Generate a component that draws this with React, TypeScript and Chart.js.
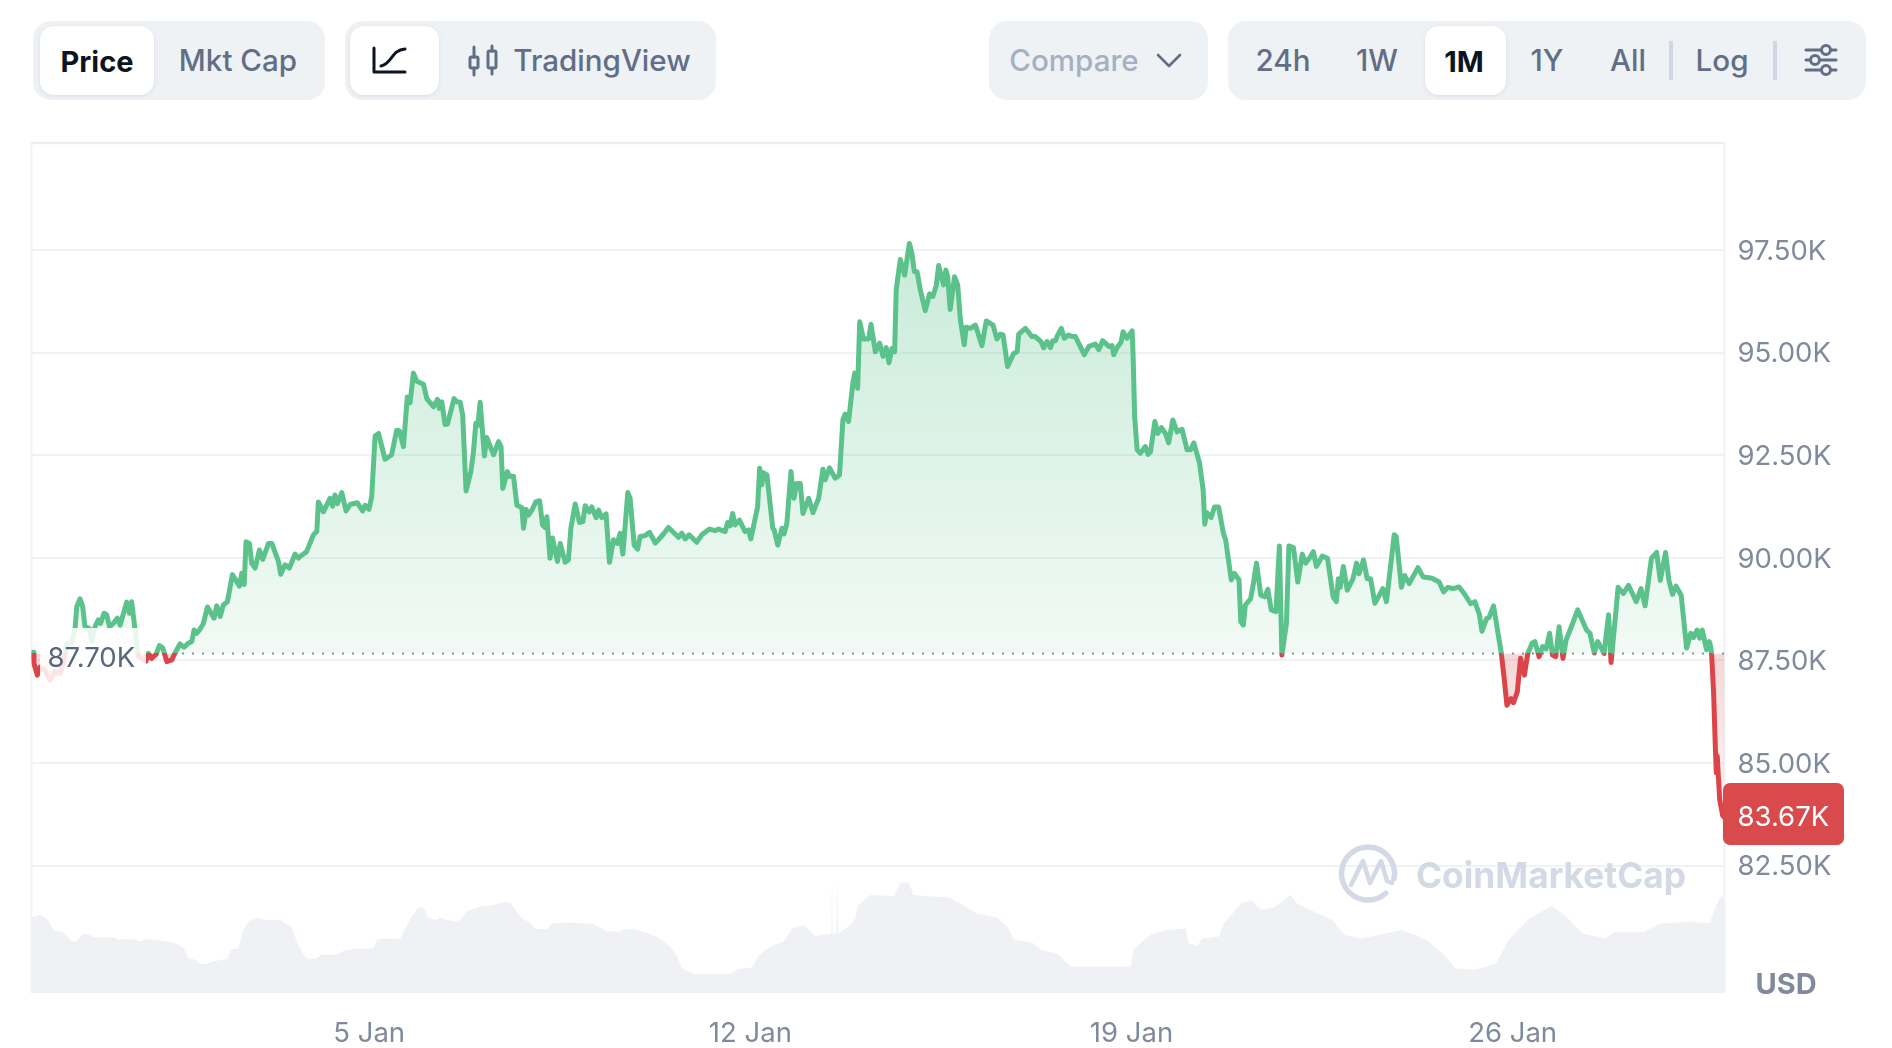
import React, { useEffect, useRef } from "react";
import { Chart, registerables } from "chart.js";

Chart.register(...registerables);

const FONT = "Inter, 'Noto Sans', sans-serif";

// Hours since the start of the window, and BTC price in thousand USD.
const priceHours = [
  0.8,1.1,2.6,3.8,6,8.2,10.4,12.6,14.1,15.6,17.8,19.2,20,21.4,22.6,23.6,25.5,26.6,28,29.5,30.5,32,33.2,34.4,36.1,37.9,39.1,42,43.2,44.2,45.7,47.2,48.6,50.5,51.6,53,55,56.4,57.9,59.7,61.9,63.3,65.5,67.3,69.2,70.7,71.7,72.9,74.3,75.8,77.6,80.5,81.7,83.2,84.6,86.4,88.6,91.7,92.7,93.8,94.6,96.1,97.1,98.6,100.5,102,104.5,106,108.9,109.9,111.8,113.7,116.2,117.7,
  118.4,121.3,124.3,125.8,126.5,128.7,131.6,132.8,133.8,134.9,136.8,138.7,140.5,143.7,146,147.1,148.8,150,151.5,153,155.9,158.8,161,162.2,164,165.7,166.9,168.4,169.9,172.8,174.3,177.2,179,179.8,180.9,182.3,183.4,186.3,187.5,189,190.1,191.6,193.7,194.8,195.9,196.8,197.8,199.7,200.7,203.7,205.9,207,207.8,209.8,210.7,212.5,214,216.2,216.9,218.1,219.1,220.6,222.3,224,225.3,226.4,227.2,228.6,229.7,231.9,233.1,235.3,236.7,237.8,239.7,241.6,243.1,244.1,245.9,247,248.9,250,251.4,253.3,254.8,256.6,258.3,259.5,260.7,262.9,263.9,265.7,267.2,268.3,270.5,272.5,275,276.4,278.6,280.8,285.2,286.7,288.2,289.9,293.3,295.5,298.9,301.4,302.9,305.8,306.9,308,309.1,310.2,312.1,314.6,316.1,317.1,320.1,321,322,322.7,324.2,326.8,327.4,329,330.8,331.8,333,334.8,336.1,337.4,
  338.9,340.1,342.6,344.5,347,348.9,349.9,351.8,354.3,356.2,357.7,358.7,360.2,362.1,362.9,364.2,365.1,366.8,369,370.1,372,373.9,375.4,376.8,378,379.3,380.5,381.2,383,384.9,387,388.1,389.2,390.4,391.8,394,395.9,397.4,398.9,399.9,402.1,403.1,403.9,405,406.9,408.3,409.5,411.2,412,413.9,416.1,419,420.9,423.9,425.6,427.1,428.3,430.3,433,434.5,435.2,438.1,441.1,442.5,445,446.2,447.7,449.2,450.2,451.4,452.4,454,455.3,457.2,458.7,460.2,464.1,466.1,469,470.5,472.2,474.9,476.3,477.1,478.5,480.3,481.2,482.9,485.2,485.6,486.3,487.4,488.8,491,492.2,493.3,495.2,496.5,498.1,499.9,501.3,503.1,505,507.2,509.4,510.9,512.4,514.9,516.5,
  517.2,518.1,520,521.5,523.3,525.4,526.4,528.9,530.3,532.3,533.1,534.2,535.1,537.4,538.5,540,541.9,543.6,545,546.5,548.6,550.1,551.2,553.2,554.3,556.3,558.2,560.2,561.7,563.3,565.1,566.4,569,571.3,573.8,575.2,576.1,576.9,578.3,580,582.6,584.1,585.2,587.2,588.8,590.3,592.2,595.7,597.3,600.7,601.6,603.9,605.3,607.3,611.2,613.5,617.4,620.5,622.5,624.4,626.7,629.3,631.3,634.4,636.3,638.3,639.4,641.4,642.5,644.5,647.9,649.1,650.4,652.2,653.3,655,656.4,658.1,659.6,661.5,662.7,664.6,666.1,667.7,669.2,670.5,671.9,673.4,675.1,676.5,678.8,681.6,685.5,687,688.9,690.4,693.2,695.2,696.3,697.8,699.4,701.7,704,707.4,709.5,711.3,714.1,716.4,718,720.3,721.8,723.4,724.9,727.2,729.6,731.4,732.7,734.2,735.4,736.5,738.4,739.6,740.2,
  740.6,741.5,742.3,742.7,743.1,744.2,745.5,746.3,
];
const priceValues = [
  87.7,87.43,87.14,87.34,87.26,87.02,87.22,87.18,87.43,87.92,87.92,88.24,88.81,89,88.81,88.32,88.28,87.96,88.32,88.49,88.4,88.65,88.61,88.32,88.4,88.53,88.36,88.92,88.65,88.93,88.24,87.59,87.55,87.48,87.67,87.55,87.65,87.86,87.8,87.47,87.51,87.68,87.9,87.82,87.92,87.96,88.24,88.16,88.26,88.4,88.8,88.53,88.83,88.57,88.85,88.93,89.59,89.31,89.62,89.35,90.39,90.35,89.87,89.75,90.19,89.96,90.35,90.35,89.91,89.6,89.83,89.75,90.09,89.99,
  90.03,90.15,90.56,90.64,91.36,91.12,91.45,91.26,91.53,91.32,91.59,91.14,91.3,91.34,91.14,91.28,91.18,91.49,92.97,93.03,92.4,92.51,93.11,93.09,92.71,93.92,93.78,94.5,94.3,94.23,93.88,93.68,93.86,93.64,93.8,93.25,93.26,93.88,93.8,93.79,93.48,91.63,92.1,92.55,93.28,93.23,93.79,92.48,92.93,92.51,92.83,92.71,91.69,92.1,91.99,91.99,91.28,91.22,90.72,91.18,91.04,91.16,91.36,91.39,90.8,90.74,91,89.99,90.48,89.91,90.35,89.89,89.95,90.72,91.31,90.86,90.88,91.27,91.12,91.24,90.98,91.16,90.98,91.07,89.89,90.44,90.35,90.6,90.09,91.59,91.45,90.31,90.21,90.52,90.54,90.62,90.36,90.44,90.58,90.74,90.5,90.6,90.46,90.56,90.38,90.56,90.7,90.66,90.7,90.64,90.86,90.78,91.08,90.8,90.92,90.64,90.68,90.46,91.24,92.18,91.78,92.07,92.02,90.72,90.68,90.31,90.72,90.58,90.84,92.1,91.45,91.81,
  91.81,91.08,91.45,91.1,91.45,92.16,91.9,92.19,91.94,92.02,93.36,93.5,93.32,94.26,94.5,94.13,95.75,95.33,95.33,95.69,95.02,95.23,94.91,95.12,94.75,95.1,95.02,96.53,97.27,96.89,97.66,97.42,96.97,96.97,96.53,96.02,96.43,96.37,96.65,97.12,96.65,97.01,96.85,96.05,96.85,96.65,95.79,95.19,95.62,95.59,95.67,95.17,95.77,95.67,95.33,95.45,95.43,94.66,94.98,95.02,95.45,95.59,95.39,95.39,95.27,95.12,95.27,95.12,95.29,95.29,95.43,95.59,95.35,95.43,95.39,95.39,94.95,95.15,95.21,95.07,95.29,95.15,95.17,94.95,95.12,95.25,95.51,95.35,95.53,94.98,93.44,92.63,92.55,92.71,92.52,92.59,93.32,93.03,93.17,93.03,92.8,93.36,93.07,93.13,92.63,92.63,92.8,92.31,91.65,
  90.82,91.1,90.98,91.24,91.24,90.6,90.44,89.46,89.62,89.46,88.44,88.36,88.85,89,89.33,89.87,89.09,89.05,89.23,88.73,88.69,90.29,87.63,88.4,90.29,90.25,89.41,90.09,89.87,89.99,90.15,89.79,90.04,89.99,89.05,88.93,89.49,89.28,89.79,89.21,89.5,89.87,89.61,89.95,89.49,89.49,88.89,89.25,88.93,90.56,90.52,89.28,89.57,89.37,89.76,89.53,89.5,89.41,89.17,89.28,89.25,89.29,89.15,88.88,88.93,88.61,88.21,88.52,88.54,88.83,87.68,87.1,86.41,86.57,86.47,86.74,87.55,87.14,87.67,87.92,87.96,87.59,87.84,87.78,88.16,87.63,87.59,88.32,87.55,88,88.32,88.73,88.24,88.16,87.68,87.96,87.67,88.61,87.45,88.32,89.28,89.13,89.33,88.93,89.25,88.83,89.99,90.13,89.45,90.13,89.45,89.11,89.31,89.09,87.8,88.16,88.06,88.24,88.04,88.24,87.76,87.96,87.84,
  87.67,86.7,85.32,84.76,85.17,84.1,83.72,83.67,
];

// Traded volume outline, in billion USD, on its own hidden axis.
const volumeHours = [
  0,3.8,6.7,9.7,14.1,17.8,20,22.6,25.8,27.3,36.9,37.9,45.7,47.9,50.1,55.2,57.4,62.6,67,69.2,72.1,74.3,77.3,79.5,86.1,88.3,91.3,93.2,95.7,99.3,103.8,109.6,114.8,117,119.9,122.1,125.1,128,134.6,138.3,144.2,150.8,152.3,155.2,162.5,164.8,167.7,170.6,172.8,175,178,180.9,182.4,186.8,189,
  191.9,197.8,203.7,207.4,211.1,216.2,219.1,222.1,227.5,229.4,237.5,247.8,253.7,259.6,261,266.9,275.7,281.6,284.6,286.8,291.9,308.1,311,317.6,320.6,327.2,331.6,335.3,340.4,345.6,352.2,352.6,352.9,353.2,354.8,355.1,355.6,360.3,363.2,363.9,369.8,380.1,383,386.7,
  388.9,397.7,404.3,408.7,416.8,425.7,430.1,433,441.1,445.5,452.1,458,484.5,485.9,490.3,494,500.6,508.7,510.2,513.9,516.1,523.4,525.6,533.7,538.1,541.8,547.7,555,557.9,563.8,573.4,578.9,586.1,604.2,615,622.2,627.6,636.7,645.7,651.1,660.2,670.1,676.4,683.7,693.6,698.1,710.8,718,731.5,739.7,742.4,744.7,746.3,
];
const volumeValues = [
  37.8,39.3,37.3,31.5,30.2,25.7,26,29.5,29,27.8,27.8,26.8,26.8,25.7,26.8,26.8,26,25.3,22.7,17.3,16.8,14.5,14.5,15.7,17,22,22.3,30.7,35.7,37.7,36.5,36.5,32.7,25.7,19,17,17,19.3,19.3,21.5,22.3,22.3,26.8,27.3,27,32.3,38.2,42.8,42.8,37.8,36.5,37.8,36.8,35.7,36.5,
  40.7,43.2,44,45.2,45.2,37.3,35.7,32,32,34.8,35.2,34.5,30.7,30.7,32,31.8,28.2,23.2,18.2,12.3,9.5,9.5,12,12.8,19,24,25.7,32.3,34,28.5,29.8,29.8,57.3,29.8,29.8,60.2,29.8,33.2,37.3,43.2,49,48.5,55.2,55.2,
  49,48.2,47.8,45.2,39.8,37.8,33.2,26.8,25.2,21.2,19.8,13.2,13.2,21.8,26.5,29.5,31.5,32.3,24.8,23.5,27.3,28.2,34.8,45.2,46.2,41.8,42.7,49,44.8,41.5,36.5,29,27.3,31.5,26.5,19.8,12.3,11.8,14.8,26.5,37.3,43.5,38.2,29.8,27.3,30.6,30.6,34.8,35.7,34.8,43.2,48.2,48.2,
];

const xTickHours = [148.9, 316.9, 484.9, 652.9];
const xTickLabels = ["5 Jan", "12 Jan", "19 Jan", "26 Jan"];
const yTickValues = [82.5, 85, 87.5, 90, 92.5, 95, 97.5];
const baselineValue = 87.67;
const baselineLabel = "87.70K";
const lastPriceLabel = "83.67K";

const GREEN = "#5ac28a";
const RED = "#db4549";
const GRID = "#f0f2f5";
const AXIS_TEXT = "#808a9d";
const TEXT = "#616e85";
const DARK = "#0d1421";

const decorations = {
  id: "decorations",
  beforeDatasetsDraw(chart: any) {
    const { ctx, chartArea: a } = chart;
    ctx.save();
    ctx.strokeStyle = "#eceef2";
    ctx.lineWidth = 2.5;
    ctx.beginPath();
    ctx.moveTo(a.left, a.top);
    ctx.lineTo(a.right, a.top);
    ctx.stroke();
    ctx.strokeStyle = GRID;
    ctx.lineWidth = 2;
    ctx.beginPath();
    ctx.moveTo(a.left, a.top);
    ctx.lineTo(a.left, a.bottom);
    ctx.moveTo(a.right, a.top);
    ctx.lineTo(a.right, a.bottom);
    ctx.stroke();

    // Watermark
    ctx.strokeStyle = "#d4d9e6";
    ctx.lineWidth = 5.5;
    ctx.lineCap = "round";
    ctx.lineJoin = "round";
    ctx.beginPath();
    ctx.arc(1368, 873.5, 26.5, (48 * Math.PI) / 180, (372 * Math.PI) / 180);
    ctx.stroke();
    ctx.lineWidth = 4.5;
    ctx.beginPath();
    ctx.moveTo(1351, 885);
    ctx.lineTo(1363, 861);
    ctx.lineTo(1370, 883);
    ctx.lineTo(1381, 861);
    ctx.lineTo(1387, 881);
    ctx.lineTo(1392, 883);
    ctx.stroke();
    ctx.fillStyle = "#d4d9e6";
    ctx.font = `700 36px ${FONT}`;
    ctx.textBaseline = "alphabetic";
    ctx.textAlign = "left";
    ctx.fillText("CoinMarketCap", 1416, 888, 270);
    ctx.restore();
  },
  afterDatasetsDraw(chart: any) {
    const { ctx, chartArea: a, scales } = chart;
    const yBase = scales.y.getPixelForValue(baselineValue);
    ctx.save();
    // Dotted reference line
    ctx.strokeStyle = "#8e939b";
    ctx.lineWidth = 2;
    ctx.setLineDash([2, 8]);
    ctx.beginPath();
    ctx.moveTo(182, yBase);
    ctx.lineTo(a.right, yBase);
    ctx.stroke();
    ctx.setLineDash([]);

    // Reference label
    ctx.fillStyle = "rgba(255,255,255,0.86)";
    ctx.beginPath();
    ctx.roundRect(40, 628, 106, 56, 6);
    ctx.fill();
    ctx.fillStyle = "#58667e";
    ctx.font = `400 27.5px ${FONT}`;
    ctx.textAlign = "left";
    ctx.textBaseline = "middle";
    ctx.fillText(baselineLabel, 47.5, 659);

    // Last price badge
    ctx.fillStyle = "#d94a4c";
    ctx.beginPath();
    ctx.roundRect(1723, 783, 121, 62, 7);
    ctx.fill();
    ctx.fillStyle = "#ffffff";
    ctx.fillText(lastPriceLabel, 1737.5, 818);

    // Currency
    ctx.fillStyle = AXIS_TEXT;
    ctx.font = `700 29px ${FONT}`;
    ctx.textAlign = "center";
    ctx.fillText("USD", 1786, 985);
    ctx.restore();
  },
};

function Pill({ left, right, children }: any) {
  return (
    <div
      style={{
        position: "absolute",
        left,
        top: 21,
        width: right - left,
        height: 79,
        background: "#eff2f5",
        borderRadius: 18,
      }}
    >
      {children}
    </div>
  );
}

function Active({ left, right }: any) {
  return (
    <div
      style={{
        position: "absolute",
        left,
        top: 26,
        width: right - left,
        height: 69,
        background: "#ffffff",
        borderRadius: 14,
        boxShadow: "0 1px 4px rgba(88,102,126,0.14)",
      }}
    />
  );
}

function Label({ x, color = TEXT, weight = 500, size = 29.6, children }: any) {
  return (
    <div
      style={{
        position: "absolute",
        left: x,
        top: 61,
        transform: "translate(-50%,-50%)",
        fontFamily: FONT,
        fontSize: size,
        fontWeight: weight,
        color,
        whiteSpace: "nowrap",
        lineHeight: 1,
      }}
    >
      {children}
    </div>
  );
}

export default function App() {
  const ref = useRef<HTMLCanvasElement>(null);

  useEffect(() => {
    const canvas = ref.current!;
    const chart: any = new Chart(canvas, {
      type: "line",
      data: {
        datasets: [
          {
            label: "Price",
            data: priceHours.map((x, i) => ({ x, y: priceValues[i] })),
            yAxisID: "y",
            order: 0,
            borderColor: GREEN,
            borderWidth: 5,
            borderJoinStyle: "round",
            borderCapStyle: "round",
            pointRadius: 0,
            tension: 0,
            fill: { target: { value: baselineValue }, above: "rgba(88,193,135,0.2)", below: "rgba(219,69,73,0.15)" },
          },
          {
            label: "Volume",
            data: volumeHours.map((x, i) => ({ x, y: volumeValues[i] })),
            yAxisID: "yVol",
            order: 1,
            borderWidth: 0,
            borderColor: "transparent",
            backgroundColor: "#eff1f5",
            pointRadius: 0,
            tension: 0,
            fill: "origin",
          },
        ],
      } as any,
      options: {
        animation: false,
        responsive: false,
        layout: { padding: { left: 31.4, top: 143, right: 0, bottom: 0 } },
        plugins: { legend: { display: false }, tooltip: { enabled: false }, title: { display: false } },
        scales: {
          x: {
            type: "linear",
            min: 0,
            max: 746.3,
            afterBuildTicks: (axis: any) => {
              axis.ticks = xTickHours.map((value) => ({ value }));
            },
            afterFit: (axis: any) => {
              axis.height = 55;
            },
            grid: { display: false },
            border: { display: false },
            ticks: {
              autoSkip: false,
              maxRotation: 0,
              padding: 16,
              color: AXIS_TEXT,
              font: { family: FONT, size: 27.5 },
              callback: (v: any) => xTickLabels[xTickHours.indexOf(v)],
            },
          },
          y: {
            type: "linear",
            position: "right",
            min: 79.396,
            max: 100.107,
            afterBuildTicks: (axis: any) => {
              axis.ticks = yTickValues.map((value) => ({ value }));
            },
            afterFit: (axis: any) => {
              axis.width = 167.5;
            },
            grid: { color: GRID, lineWidth: 2, drawTicks: false },
            border: { display: false },
            ticks: {
              autoSkip: false,
              padding: 13,
              labelOffset: 1.5,
              color: AXIS_TEXT,
              font: { family: FONT, size: 27.5 },
              callback: (v: any) => `${Number(v).toFixed(2)}K`,
            },
          },
          yVol: { type: "linear", display: false, min: 0, max: 425 },
        },
      } as any,
      plugins: [decorations],
    });

    const { ctx, chartArea: a, scales } = chart;
    const yBase = scales.y.getPixelForValue(baselineValue);
    const stop = (yBase - a.top) / (a.bottom - a.top);
    const stroke = ctx.createLinearGradient(0, a.top, 0, a.bottom);
    stroke.addColorStop(0, GREEN);
    stroke.addColorStop(stop, GREEN);
    stroke.addColorStop(stop, RED);
    stroke.addColorStop(1, RED);
    const above = ctx.createLinearGradient(0, scales.y.getPixelForValue(97.5), 0, yBase);
    above.addColorStop(0, "rgba(88,193,135,0.32)");
    above.addColorStop(1, "rgba(88,193,135,0.08)");
    const below = ctx.createLinearGradient(0, yBase, 0, yBase + 175);
    below.addColorStop(0, "rgba(219,69,73,0.22)");
    below.addColorStop(1, "rgba(219,69,73,0.04)");
    const ds = chart.data.datasets[0];
    ds.borderColor = stroke;
    ds.fill = { target: { value: baselineValue }, above, below };
    chart.update();

    return () => chart.destroy();
  }, []);

  return (
    <div style={{ position: "absolute", left: 0, top: 0, width: 1892, height: 1048, overflow: "hidden", background: "#fff" }}>
      <canvas ref={ref} width={1892} height={1048} style={{ position: "absolute", left: 0, top: 0, width: 1892, height: 1048 }} />

      <Pill left={33} right={325} />
      <Active left={40} right={154} />
      <Label x={97} color={DARK} weight={700} size={29}>Price</Label>
      <Label x={238}>Mkt Cap</Label>

      <Pill left={345} right={716} />
      <Active left={350} right={439} />
      <Label x={602}>TradingView</Label>

      <Pill left={989} right={1208} />
      <Label x={1074} color="#a6b0c3">Compare</Label>

      <Pill left={1228} right={1866} />
      <Active left={1425} right={1506} />
      <Label x={1283}>24h</Label>
      <Label x={1377}>1W</Label>
      <Label x={1464} color={DARK} weight={700} size={29}>1M</Label>
      <Label x={1547}>1Y</Label>
      <Label x={1628}>All</Label>
      <Label x={1722}>Log</Label>
      <div style={{ position: "absolute", left: 1669, top: 41, width: 4, height: 39, background: "#cfd6e4" }} />
      <div style={{ position: "absolute", left: 1773, top: 41, width: 4, height: 39, background: "#cfd6e4" }} />

      <svg width={1892} height={110} style={{ position: "absolute", left: 0, top: 0, pointerEvents: "none" }} fill="none" strokeLinecap="round" strokeLinejoin="round">
        <path d="M374 48V72H405" stroke={DARK} strokeWidth={3} />
        <path d="M381 66C392 64 391 50 405 49" stroke={DARK} strokeWidth={3} />
        <g stroke={TEXT} strokeWidth={3}>
          <path d="M474 47V57M474 68V75M492 46V51M492 68V74" />
          <rect x={470} y={57} width={8} height={11} rx={1.5} />
          <rect x={488} y={51} width={8} height={17} rx={1.5} />
          <path d="M1158 55L1169 66L1180 55" strokeWidth={2.6} />
          <path d="M1806 50H1821M1831 50H1836M1806 60H1810M1820 60H1836M1806 70H1821M1831 70H1836" />
          <circle cx={1826} cy={50} r={4.5} />
          <circle cx={1815} cy={60} r={4.5} />
          <circle cx={1826} cy={70} r={4.5} />
        </g>
      </svg>
    </div>
  );
}
